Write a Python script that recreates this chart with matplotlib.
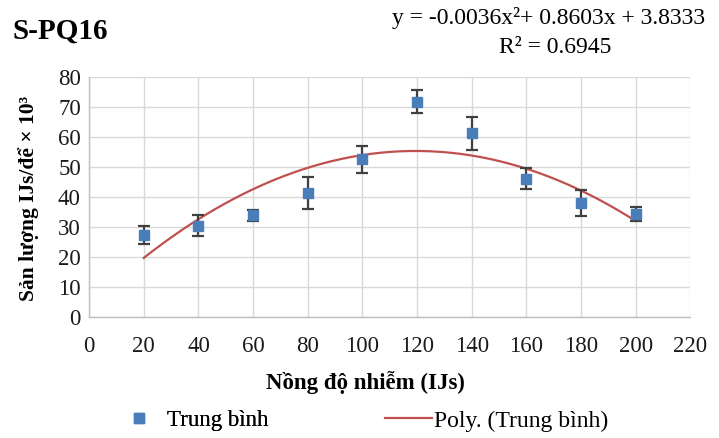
import numpy as np
import matplotlib
matplotlib.use("Agg")
import matplotlib.pyplot as plt
from matplotlib.lines import Line2D

plt.rcParams['font.family'] = ['Liberation Serif', 'DejaVu Serif']

# Inoculum concentration (IJs) and mean yield (IJs/host x 10^3)
concentration = [20, 40, 60, 80, 100, 120, 140, 160, 180, 200]
mean_yield = [27.2, 30.3, 33.8, 41.1, 52.4, 71.6, 61.1, 45.9, 38.0, 34.2]
yield_err = [3.0, 3.5, 1.8, 5.3, 4.4, 3.8, 5.4, 3.5, 4.3, 2.3]

# Second-order trendline coefficients (a*x^2 + b*x + c) and fit quality
poly_coef = [-0.0036, 0.8603, 3.8333]
r_squared = 0.6945

x_ticks = list(range(0, 221, 20))
y_ticks = list(range(0, 81, 10))

fig = plt.figure(figsize=(7.19, 4.38), dpi=100)
ax = fig.add_axes([0.124, 0.277, 0.836, 0.548])

grid_c = '#D9D9D9'
ax.set_xlim(0, 220)
ax.set_ylim(0, 80)
ax.set_xticks(x_ticks)
ax.set_yticks(y_ticks)
ax.grid(True, color=grid_c, linewidth=1.0)
ax.set_axisbelow(True)
for side in ['top', 'right']:
    ax.spines[side].set_visible(False)
for side in ['left', 'bottom']:
    ax.spines[side].set_color('#BFBFBF')
    ax.spines[side].set_linewidth(1.0)
ax.tick_params(length=0, labelsize=16.5, colors='#1a1a1a')
ax.tick_params(axis='x', pad=14)
ax.tick_params(axis='y', pad=6)

# polynomial trendline
xs = np.linspace(min(concentration), max(concentration), 200)
ys = np.polyval(poly_coef, xs)
trend_c = '#C0504D'
ax.plot(xs, ys, color=trend_c, linewidth=1.6, zorder=2)

# means with error bars
marker_c = '#4A7EBB'
ax.errorbar(concentration, mean_yield, yerr=yield_err, fmt='s',
            color=marker_c, markersize=7, ecolor='#404040',
            elinewidth=1.6, capsize=4, capthick=1.6, zorder=3)

fig.text(0.017, 0.929, 'S-PQ16', fontsize=21, fontweight='bold',
         ha='left', va='center')
eq = (f'y = {poly_coef[0]:.4f}x²+ {poly_coef[1]:.4f}x + '
      f'{poly_coef[2]:.4f}')
fig.text(0.763, 0.958, eq, fontsize=17, ha='center', va='center')
fig.text(0.772, 0.892, f'R² = {r_squared:.4f}', fontsize=17,
         ha='center', va='center')

fig.text(0.039, 0.548, 'Sản lượng IJs/để × 10³', fontsize=15.5,
         fontweight='bold', rotation=90, ha='center', va='center')
fig.text(0.508, 0.126, 'Nồng độ nhiễm (IJs)', fontsize=16.5,
         fontweight='bold', ha='center', va='center')

# legend entries, placed as two separate groups
mean_handle = Line2D([], [], marker='s', linestyle='none', color=marker_c,
                     markersize=6.5)
trend_handle = Line2D([], [], color=trend_c, linewidth=1.6)
leg1 = fig.legend([mean_handle], ['Trung bình'], loc='center left',
                  bbox_to_anchor=(0.178, 0.039), frameon=False,
                  fontsize=16.5, handlelength=1.0, handletextpad=0.72,
                  borderpad=0, borderaxespad=0)
fig.add_artist(leg1)
fig.legend([trend_handle], ['Poly. (Trung bình)'], loc='center left',
           bbox_to_anchor=(0.535, 0.039), frameon=False,
           fontsize=17, handlelength=2.0, handletextpad=0.1,
           borderpad=0, borderaxespad=0)

fig.savefig('out.png', dpi=100, facecolor='white')
